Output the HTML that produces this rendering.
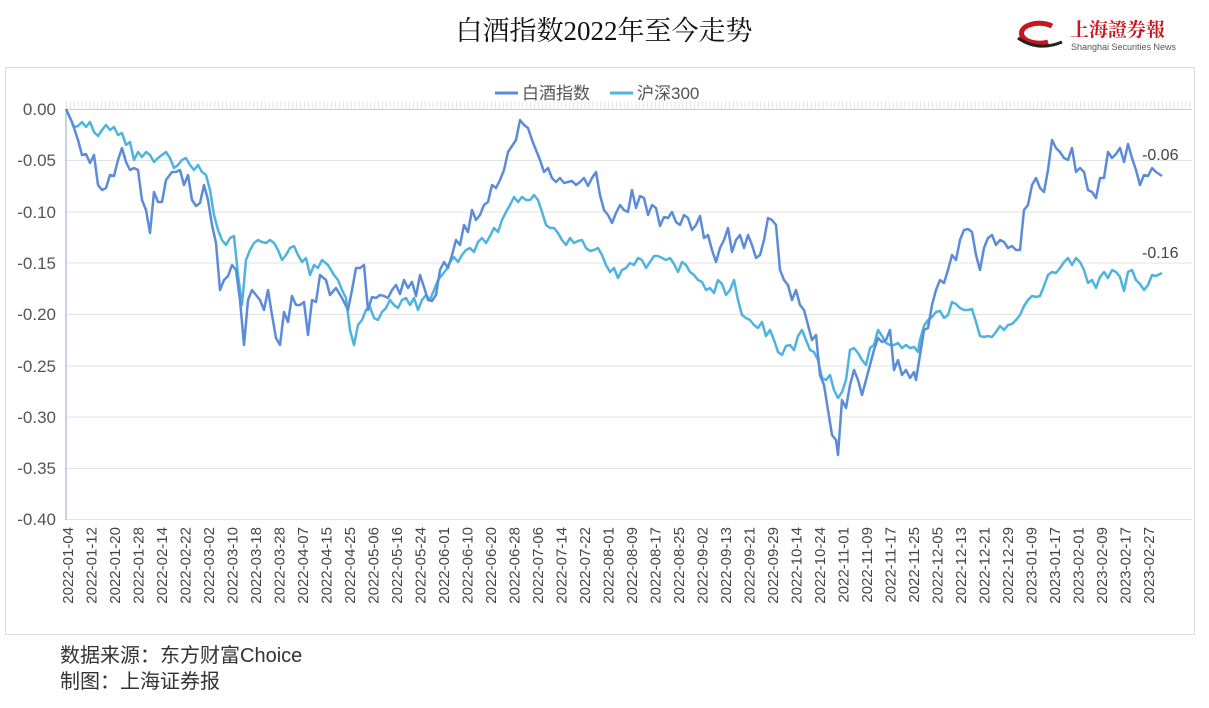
<!DOCTYPE html><html><head><meta charset="utf-8"><style>body{margin:0;background:#fff;width:1209px;height:708px;overflow:hidden}svg{display:block}</style></head><body>
<svg width="1209" height="708" xmlns="http://www.w3.org/2000/svg" font-family="Liberation Sans, Noto Sans CJK SC, sans-serif">
<text x="604" y="40" text-anchor="middle" font-size="27" font-family="Liberation Serif, Noto Serif CJK SC, serif" fill="#111">白酒指数2022年至今走势</text>
<g>
<path d="M1052 26 a18 10 0 1 0 -4 16" fill="none" stroke="#c8161d" stroke-width="5"/>
<path d="M1018 38 q20 14 44 4" fill="none" stroke="#222" stroke-width="3"/>
<text x="1070" y="36" font-size="19" fill="#c8161d" font-weight="bold" font-family="Noto Serif CJK SC, serif">上海證券報</text>
<text x="1071" y="50" font-size="9" fill="#555">Shanghai Securities News</text>
</g>
<rect x="5.5" y="67.5" width="1189" height="567" fill="none" stroke="#ddd"/>
<g stroke="#e3e3e3" stroke-width="1">
<line x1="66" x2="1192" y1="160.5" y2="160.5"/><line x1="66" x2="1192" y1="212" y2="212"/><line x1="66" x2="1192" y1="263" y2="263"/><line x1="66" x2="1192" y1="314.5" y2="314.5"/><line x1="66" x2="1192" y1="366" y2="366"/><line x1="66" x2="1192" y1="417" y2="417"/><line x1="66" x2="1192" y1="468.5" y2="468.5"/><line x1="66" x2="1192" y1="519.5" y2="519.5"/>
</g>
<line x1="66" x2="1192" y1="109.5" y2="109.5" stroke="#ccc"/>
<line x1="66" x2="1192" y1="105.5" y2="105.5" stroke="#e4e4e4" stroke-width="8" stroke-dasharray="1 2.9"/>
<line x1="66" x2="66" y1="109" y2="520" stroke="#8fa8cc"/>
<g font-size="17" fill="#555" text-anchor="end">
<text x="56" y="115">0.00</text><text x="56" y="166">-0.05</text><text x="56" y="218">-0.10</text><text x="56" y="269">-0.15</text><text x="56" y="320">-0.20</text><text x="56" y="372">-0.25</text><text x="56" y="423">-0.30</text><text x="56" y="474">-0.35</text><text x="56" y="525">-0.40</text>
</g>
<line x1="495" x2="518" y1="93" y2="93" stroke="#5b8bd9" stroke-width="3"/>
<text x="522" y="99" font-size="17" fill="#555">白酒指数</text>
<line x1="610" x2="633" y1="93" y2="93" stroke="#4fb3e0" stroke-width="3"/>
<text x="637" y="99" font-size="17" fill="#555">沪深300</text>
<polyline fill="none" stroke="#4fb3e0" stroke-width="2.5" stroke-linejoin="round" points="66,109 70,118 74,127 78,126 82,122 86,127 90,122 94,132 98,136 102,130 106,125 110,130 114,127 118,135 122,133 126,145 130,142 134,160 138,152 142,157 146,152 150,155 154,162 158,158 162,155 166,152 170,158 174,168 178,165 182,160 186,158 190,165 194,170 198,165 202,172 206,175 210,190 214,215 218,230 222,240 226,245 230,238 234,236 238,275 242,305 246,260 250,250 254,243 258,240 262,242 266,243 270,240 274,243 278,250 282,260 286,255 290,248 294,246 298,255 302,262 306,258 310,275 314,265 318,268 322,260 328,265 334,275 338,280 342,290 346,298 350,330 354,345 358,325 362,320 366,310 370,307 374,318 378,320 382,312 386,308 390,300 394,305 398,308 402,300 406,298 410,305 414,298 418,310 422,300 426,295 430,300 434,290 438,280 442,275 446,270 450,262 454,257 458,262 462,255 466,250 470,248 474,252 478,242 482,238 486,243 490,236 494,228 498,232 502,220 506,212 510,205 514,197 518,202 522,197 526,200 530,200 534,195 538,200 542,212 546,225 550,228 554,228 558,233 562,240 566,245 570,238 574,243 578,241 582,240 586,248 590,251 594,250 598,248 602,255 606,265 610,272 614,268 618,278 622,270 626,268 630,263 634,265 638,258 642,260 646,268 650,262 654,256 658,256 662,258 666,260 670,258 674,264 678,272 682,262 686,265 690,272 694,275 698,280 702,282 706,290 710,288 714,293 718,280 722,284 726,295 730,290 734,280 738,300 742,315 746,318 750,320 754,325 758,328 762,322 766,336 770,330 774,340 778,352 782,355 786,346 790,345 794,350 798,336 802,330 806,340 810,350 814,352 818,360 822,378 826,380 830,375 834,390 838,398 842,392 846,380 850,350 854,348 858,353 862,360 866,365 870,348 874,345 878,330 882,336 886,343 890,345 894,345 898,343 902,348 906,345 910,348 914,347 918,352 920,340 924,326 928,320 932,317 936,312 940,311 944,318 948,315 952,302 956,304 960,308 964,310 968,310 972,309 976,322 980,336 984,337 988,336 992,337 996,332 1000,326 1004,330 1008,325 1012,324 1016,320 1020,315 1024,306 1028,300 1032,296 1036,297 1040,296 1044,286 1048,275 1052,272 1056,273 1060,268 1064,262 1068,258 1072,265 1076,258 1080,262 1084,270 1088,283 1092,280 1096,288 1100,277 1104,272 1108,278 1112,270 1116,272 1120,277 1124,291 1128,272 1132,270 1136,280 1140,284 1144,290 1148,285 1152,275 1156,276 1162,273"/>
<polyline fill="none" stroke="#5b8bd9" stroke-width="2.5" stroke-linejoin="round" points="66,109 72,122 78,140 82,155 86,154 90,163 94,155 98,185 102,190 106,188 110,175 114,176 118,160 122,148 126,162 130,170 134,168 138,170 142,200 146,210 150,233 154,192 158,202 162,202 166,180 172,172 176,172 180,170 184,185 188,175 192,200 196,206 200,203 204,185 208,200 212,225 216,243 220,290 224,280 228,276 232,265 236,270 240,300 244,345 248,300 252,290 256,295 260,300 264,310 268,290 272,315 276,338 280,345 284,312 288,322 292,296 296,305 300,305 304,302 308,335 312,300 316,302 320,275 326,280 330,295 336,288 342,298 348,310 352,290 356,268 360,268 364,265 368,310 372,297 376,298 380,295 384,296 388,298 392,290 396,285 400,294 404,280 408,288 412,282 416,296 420,275 424,287 428,300 432,301 436,295 440,270 444,262 448,268 452,255 456,240 460,245 464,225 468,232 472,210 476,220 480,215 484,205 488,202 492,185 496,188 500,180 504,170 508,152 512,146 516,140 520,120 524,125 528,128 532,140 536,150 540,160 544,172 548,168 552,178 556,182 560,178 564,183 568,182 572,181 576,185 580,182 584,178 588,186 592,178 596,172 600,195 604,210 608,215 612,223 616,213 620,205 624,210 628,212 632,190 636,208 640,196 644,198 648,215 652,205 656,208 660,226 664,217 668,218 672,212 676,222 680,225 684,215 688,218 692,230 696,225 700,216 704,238 708,235 712,250 716,262 720,248 724,240 728,228 732,252 736,240 740,235 744,248 748,235 752,245 756,258 760,255 764,240 768,218 772,220 776,225 780,270 784,280 788,285 792,300 796,290 800,305 804,310 808,325 812,340 816,335 820,375 824,385 828,410 832,435 836,440 838,455 842,400 846,408 850,385 854,370 858,380 862,395 866,380 870,365 874,350 878,338 882,342 886,340 890,330 894,370 898,360 902,375 906,370 910,378 914,372 916,380 920,355 924,330 928,328 932,305 936,290 940,280 944,283 948,270 952,255 956,260 960,240 964,230 968,229 972,232 976,255 980,270 984,248 988,238 992,235 996,245 1000,240 1004,242 1008,248 1012,246 1016,250 1020,250 1024,210 1028,205 1032,185 1036,178 1040,188 1044,192 1048,170 1052,140 1056,148 1060,152 1064,158 1068,160 1072,148 1076,172 1080,168 1084,172 1088,190 1092,192 1096,198 1100,178 1104,178 1108,152 1112,158 1116,154 1120,148 1124,162 1128,144 1132,158 1136,170 1140,185 1144,175 1148,176 1152,168 1156,172 1162,176"/>
<text x="1142" y="160" font-size="16" fill="#444">-0.06</text>
<text x="1142" y="258" font-size="16" fill="#444">-0.16</text>
<g font-size="15" fill="#444" text-anchor="end">
<text transform="translate(73,527) rotate(-90)">2022-01-04</text>
<text transform="translate(96.5,527) rotate(-90)">2022-01-12</text>
<text transform="translate(120,527) rotate(-90)">2022-01-20</text>
<text transform="translate(143.5,527) rotate(-90)">2022-01-28</text>
<text transform="translate(167,527) rotate(-90)">2022-02-14</text>
<text transform="translate(190.5,527) rotate(-90)">2022-02-22</text>
<text transform="translate(214,527) rotate(-90)">2022-03-02</text>
<text transform="translate(237.5,527) rotate(-90)">2022-03-10</text>
<text transform="translate(261,527) rotate(-90)">2022-03-18</text>
<text transform="translate(284.5,527) rotate(-90)">2022-03-28</text>
<text transform="translate(308,527) rotate(-90)">2022-04-07</text>
<text transform="translate(331.5,527) rotate(-90)">2022-04-15</text>
<text transform="translate(355,527) rotate(-90)">2022-04-25</text>
<text transform="translate(378.5,527) rotate(-90)">2022-05-06</text>
<text transform="translate(402,527) rotate(-90)">2022-05-16</text>
<text transform="translate(425.5,527) rotate(-90)">2022-05-24</text>
<text transform="translate(449,527) rotate(-90)">2022-06-01</text>
<text transform="translate(472.5,527) rotate(-90)">2022-06-10</text>
<text transform="translate(496,527) rotate(-90)">2022-06-20</text>
<text transform="translate(519.5,527) rotate(-90)">2022-06-28</text>
<text transform="translate(543,527) rotate(-90)">2022-07-06</text>
<text transform="translate(566.5,527) rotate(-90)">2022-07-14</text>
<text transform="translate(590,527) rotate(-90)">2022-07-22</text>
<text transform="translate(613.5,527) rotate(-90)">2022-08-01</text>
<text transform="translate(637,527) rotate(-90)">2022-08-09</text>
<text transform="translate(660.5,527) rotate(-90)">2022-08-17</text>
<text transform="translate(684,527) rotate(-90)">2022-08-25</text>
<text transform="translate(707.5,527) rotate(-90)">2022-09-02</text>
<text transform="translate(731,527) rotate(-90)">2022-09-13</text>
<text transform="translate(754.5,527) rotate(-90)">2022-09-21</text>
<text transform="translate(778,527) rotate(-90)">2022-09-29</text>
<text transform="translate(801.5,527) rotate(-90)">2022-10-14</text>
<text transform="translate(825,527) rotate(-90)">2022-10-24</text>
<text transform="translate(848.5,527) rotate(-90)">2022-11-01</text>
<text transform="translate(872,527) rotate(-90)">2022-11-09</text>
<text transform="translate(895.5,527) rotate(-90)">2022-11-17</text>
<text transform="translate(919,527) rotate(-90)">2022-11-25</text>
<text transform="translate(942.5,527) rotate(-90)">2022-12-05</text>
<text transform="translate(966,527) rotate(-90)">2022-12-13</text>
<text transform="translate(989.5,527) rotate(-90)">2022-12-21</text>
<text transform="translate(1013,527) rotate(-90)">2022-12-29</text>
<text transform="translate(1036.5,527) rotate(-90)">2023-01-09</text>
<text transform="translate(1060,527) rotate(-90)">2023-01-17</text>
<text transform="translate(1083.5,527) rotate(-90)">2023-02-01</text>
<text transform="translate(1107,527) rotate(-90)">2023-02-09</text>
<text transform="translate(1130.5,527) rotate(-90)">2023-02-17</text>
<text transform="translate(1154,527) rotate(-90)">2023-02-27</text>
</g>
<text x="60" y="662" font-size="20" fill="#333">数据来源：东方财富Choice</text>
<text x="60" y="688" font-size="20" fill="#333">制图：上海证券报</text>
</svg>
</body></html>
